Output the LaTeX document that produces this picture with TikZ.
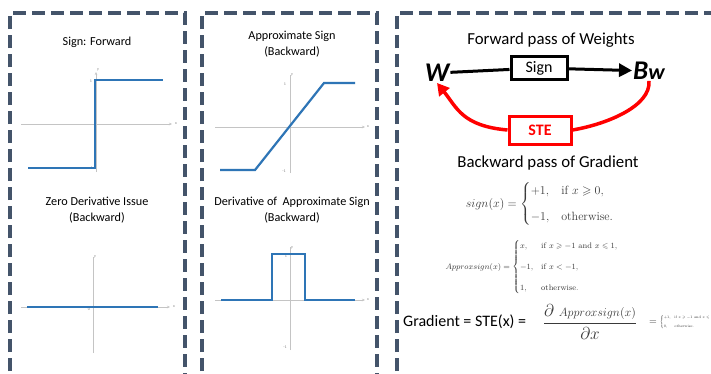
\documentclass[tikz,border=0pt]{standalone}
\usepackage{amsmath,amssymb}
\usepackage{graphicx}
\usepackage[no-math]{fontspec}
\setmainfont{Carlito}
\newfontfamily\cmrm{Latin Modern Roman}
\usetikzlibrary{arrows.meta}

\definecolor{panelgray}{HTML}{44546A}
\definecolor{plotblue}{HTML}{2E75B6}
\definecolor{axisgray}{HTML}{C4C4C4}
\definecolor{mathgray}{HTML}{3A3A3A}

\newcommand{\tx}[1]{\text{\cmrm #1}}

\tikzset{
  panel/.style={draw=panelgray,line width=4.5pt,dash pattern=on 13pt off 6pt},
  axis/.style={draw=axisgray,line width=0.9pt},
  axisarrow/.style={axis,-{Stealth[length=3pt,width=2.5pt]}},
  curve/.style={draw=plotblue,line width=2.2pt,line join=miter},
  ticklbl/.style={font=\fontsize{4}{4}\selectfont,text=gray,inner sep=0pt},
  title/.style={font=\fontsize{12.2}{16}\selectfont,align=center},
  heading/.style={font=\fontsize{16.8}{20}\selectfont},
  opbox/.style={draw,line width=3pt,minimum width=56pt,minimum height=23pt,
    inner sep=0pt,font=\fontsize{16}{18}\selectfont},
  var/.style={font=\fontsize{27}{27}\selectfont\bfseries\itshape,inner sep=1pt},
  steline/.style={draw=red,line width=3.5pt},
  formula/.style={text=mathgray,inner sep=0pt}
}

\begin{document}
\begin{tikzpicture}[x=1pt,y=-1pt]
  \clip (0,0) rectangle (711,373);
  \fill[white] (0,0) rectangle (711,373);

  % dashed panels
  \draw[panel] (10,390) -- (10,13) -- (185,13) -- (185,390);
  \draw[panel] (202,390) -- (202,13) -- (377,13) -- (377,390);
  \draw[panel] (397,390) -- (397,13) -- (730,13);

  % sign forward
  \node[title] (t1) at (97,42) {Sign: Forward};
  \draw[axisarrow] (21,124) -- (172,124);
  \draw[axisarrow] (96,172) -- (96,72);
  \node[ticklbl] (x1) at (176,124) {x};
  \node[ticklbl] (y1) at (98,70) {y};
  \node[ticklbl] (p1) at (91,81) {1};
  \node[ticklbl] (m1) at (91,168) {-1};
  \draw[curve] (28,168) -- (95,168) -- (95,80) -- (163,80);

  % zero derivative
  \node[title] (t2) at (97,210) {Zero Derivative Issue\\(Backward)};
  \draw[axisarrow] (21,307) -- (170,307);
  \draw[axis] (93,353) -- (93,257);
  \node[ticklbl] (x2) at (174,307) {x};
  \node[ticklbl] (y2) at (95,257) {y};
  \node[ticklbl] (z2) at (89,309) {0};
  \draw[curve] (27,307) -- (158,307);

  % approximate sign
  \node[title] (t3) at (292,44) {Approximate Sign\\(Backward)};
  \draw[axisarrow] (215,127) -- (365,127);
  \draw[axis] (290,173) -- (290,75);
  \node[ticklbl] (x3) at (368,127) {x};
  \node[ticklbl] (y3) at (292,75) {y};
  \node[ticklbl] (p3) at (285,84) {1};
  \node[ticklbl] (m3) at (284,171) {-1};
  \draw[curve] (220,170) -- (255,170) -- (324,83) -- (355,83);

  % derivative of approximate sign
  \node[title] (t4) at (292,210) {Derivative of\ \ Approximate Sign\\(Backward)};
  \draw[axisarrow] (215,300) -- (365,300);
  \draw[axis] (290,350) -- (290,247);
  \node[ticklbl] (x4) at (368,300) {x};
  \node[ticklbl] (y4) at (292,248) {y};
  \node[ticklbl] (p4) at (286,256) {1};
  \node[ticklbl] (m4) at (285,347) {-1};
  \draw[curve] (221,300) -- (272,300) -- (272,254) -- (305,254) -- (305,300) -- (355,300);

  % forward and backward pass
  \node[heading] (fwd) at (551,40) {Forward pass of Weights};
  \node[var] (W) at (437,73) {W};
  \node[opbox] (sign) at (539,68) {Sign};
  \node[var] (Bw) at (649,71) {B\fontsize{22}{22}\selectfont w};
  \node[opbox,draw=red,text=red,font=\fontsize{16}{18}\selectfont\bfseries,
    minimum width=62pt,minimum height=28pt] (ste) at (540,130) {STE};
  \draw[line width=3pt] (W) -- (sign);
  \draw[line width=3pt,-{Triangle[length=13pt,width=13pt]}] (sign) -- (Bw);
  \draw[steline] (Bw.south) .. controls +(2,25) and +(35,-6) .. (ste.east);
  \draw[steline,-{Triangle[length=12pt,width=13pt]}]
    (ste.west) .. controls +(-45,-4) and +(20,25) .. (W.south);

  \node[heading] (bwd) at (548,163) {Backward pass of Gradient};

  % formulas
  \node[formula,font=\fontsize{12}{14}\selectfont] (fsign) at (540,204)
    {$sign(x)=\begin{cases}+1, & \tx{if } x\geqslant 0,\\[9pt] -1, & \tx{otherwise.}\end{cases}$};
  \node[formula,font=\fontsize{8}{10}\selectfont] (fapprox) at (532,267)
    {$Approxsign(x)=\begin{cases}x, & \tx{if } x\geqslant -1 \tx{ and } x\leqslant 1,\\[9pt] -1, & \tx{if } x<-1,\\[9pt] 1, & \tx{otherwise.}\end{cases}$};

  \node[font=\fontsize{16}{18}\selectfont,anchor=west,inner sep=0pt] (grad) at (403,322) {Gradient = STE(x) =};
  \node[formula,font=\fontsize{17}{20}\selectfont] (frac) at (590,322)
    {$\displaystyle\frac{\partial\;\text{\fontsize{11.5}{12}\selectfont$Approxsign(x)$}}{\partial x}$};
  \node[formula,font=\fontsize{10}{12}\selectfont] (eq) at (653,323) {$=$};
  \node[formula,font=\fontsize{6}{7}\selectfont,anchor=west] (fgrad) at (660,322)
    {\scalebox{0.6}{$\begin{cases}+1, & \tx{if } x\geqslant -1 \tx{ and } x\leqslant 1,\\[7pt] 0, & \tx{otherwise.}\end{cases}$}};
\end{tikzpicture}
\end{document}
